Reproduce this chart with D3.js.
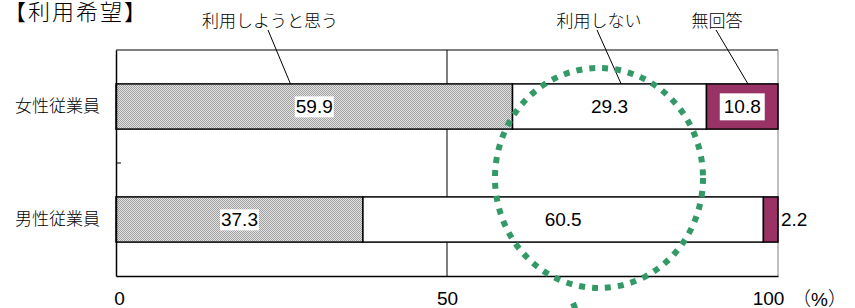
<!DOCTYPE html>
<html>
<head>
<meta charset="utf-8">
<script src="https://cdn.jsdelivr.net/npm/d3@7"></script>
<style>
  body { margin: 0; background: #fff; }
  svg text { font-family: "Liberation Sans", Arial, "Noto Sans CJK JP", sans-serif; }
  svg text.jp { font-weight: 300; }
</style>
</head>
<body>
<div id="chart"></div>
<script>
// data
const title = "【利用希望】";
const categories = ["女性従業員", "男性従業員"];
const seriesNames = ["利用しようと思う", "利用しない", "無回答"];
const useYes = [59.9, 37.3];
const useNo = [29.3, 60.5];
const noAnswer = [10.8, 2.2];
const xTicks = [0, 50, 100];

const svgWidth = 855, svgHeight = 308;
const margin = {top: 50, right: 77, bottom: 32, left: 116};
const width = svgWidth - margin.left - margin.right,
      height = svgHeight - margin.top - margin.bottom;

const svg = d3.select("#chart").append("svg")
    .attr("width", svgWidth)
    .attr("height", svgHeight);

// stipple fill for first series
const defs = svg.append("defs");
const pat = defs.append("pattern")
    .attr("id", "dots")
    .attr("width", 2).attr("height", 2)
    .attr("patternUnits", "userSpaceOnUse");
pat.append("rect").attr("width", 2).attr("height", 2).attr("fill", "#e2e2e2");
pat.append("rect").attr("width", 1).attr("height", 1).attr("fill", "#a0a0a0");
pat.append("rect").attr("x", 1).attr("y", 1).attr("width", 1).attr("height", 1).attr("fill", "#a0a0a0");

const fills = ["url(#dots)", "#ffffff", "#993366"];

const g = svg.append("g")
    .attr("transform", "translate(" + margin.left + "," + margin.top + ")");

let x = d3.scaleLinear().domain([0, 100]).range([0, width]);
let y = d3.scaleBand().domain(categories).range([0, height])
    .paddingInner(0.6).paddingOuter(0.3);

// build stacked rows
const rows = categories.map((c, i) => ({cat: c, 0: useYes[i], 1: useNo[i], 2: noAnswer[i]}));
const stacked = d3.stack().keys([0, 1, 2])(rows);

// frame: top and right border gray
g.append("line").attr("x1", 0).attr("x2", width).attr("y1", 0).attr("y2", 0)
    .attr("stroke", "#808080").attr("stroke-width", 2);
g.append("line").attr("x1", width).attr("x2", width).attr("y1", 0).attr("y2", height)
    .attr("stroke", "#808080").attr("stroke-width", 1);

// gridline at 50
g.selectAll(".grid").data(xTicks.slice(1, -1)).enter().append("line")
    .attr("x1", d => x(d)).attr("x2", d => x(d))
    .attr("y1", 0).attr("y2", height)
    .attr("stroke", "#000").attr("stroke-width", 1);

// bars
const layers = g.selectAll(".layer").data(stacked).enter().append("g")
    .attr("fill", (d, i) => fills[i]);

layers.selectAll("rect").data(d => d).enter().append("rect")
    .attr("x", d => x(d[0]))
    .attr("y", d => y(d.data.cat))
    .attr("width", d => x(d[1]) - x(d[0]))
    .attr("height", y.bandwidth())
    .attr("stroke", "#000")
    .attr("stroke-width", 1.5);

// axes
const xAxis = g.append("g")
    .attr("transform", "translate(0," + height + ")")
    .call(d3.axisBottom(x).tickValues(xTicks).tickSize(0).tickPadding(16));
xAxis.select(".domain").attr("stroke", "#000").attr("stroke-width", 1.5);
xAxis.selectAll("text").attr("font-size", "19px").attr("fill", "#000")
    .style("font-family", "\"Liberation Sans\", Arial, sans-serif")
    .attr("dx", d => d === 100 ? -10 : (d === 0 ? 3 : 0));

const yAxis = g.append("g")
    .call(d3.axisLeft(y).tickSize(0).tickPadding(16));
yAxis.select(".domain").attr("stroke", "#000").attr("stroke-width", 1.5);
yAxis.selectAll("text").attr("font-size", "17px").attr("fill", "#000")
    .attr("class", "jp").style("font-family", "\"Noto Sans CJK JP\", sans-serif");

// boundary tick between the two categories
g.selectAll(".btick").data(categories.slice(1)).enter().append("line")
    .attr("x1", 0).attr("x2", 5)
    .attr("y1", d => y(d) - y.step() * y.paddingInner() / 2)
    .attr("y2", d => y(d) - y.step() * y.paddingInner() / 2)
    .attr("stroke", "#000").attr("stroke-width", 1);

g.append("text")
    .attr("class", "jp")
    .attr("x", width + 14).attr("y", height + 29.5)
    .attr("font-size", "19px")
    .text("（%）");

// value labels
stacked.forEach((layer, si) => {
    layer.forEach(d => {
        const v = d[1] - d[0];
        const segW = x(d[1]) - x(d[0]);
        const inside = segW > 40;
        const cy = y(d.data.cat) + y.bandwidth() / 2;
        const lg = g.append("g");
        const t = lg.append("text")
            .attr("x", inside ? x(d[0]) + segW / 2 : x(d[1]) + 3)
            .attr("y", cy)
            .attr("dy", "0.36em")
            .attr("text-anchor", inside ? "middle" : "start")
            .attr("font-size", "19px")
            .attr("fill", "#000")
            .text(v.toFixed(1));
        if (inside && si !== 1) {
            const b = t.node().getBBox();
            const pad = si === 2 ? 4 : 1;
            lg.insert("rect", "text")
                .attr("x", b.x - pad).attr("y", b.y - pad + 1)
                .attr("width", b.width + pad * 2).attr("height", b.height + pad * 2 - 2)
                .attr("fill", "#fff");
        }
    });
});

// title
svg.append("text")
    .attr("class", "jp")
    .attr("x", 4).attr("y", 20)
    .attr("font-size", "22px")
    .attr("letter-spacing", "2px")
    .text(title);

// series labels with leader lines
const seriesLabelX = [270, 599, 717];
const leaderTop = [[268, 30], [597, 30], [716, 30]];
const leaderFrac = [0.44, 0.56, 0.58];
const first = stacked.map(l => l[0]);
seriesNames.forEach((name, i) => {
    svg.append("text")
        .attr("class", "jp")
        .attr("x", seriesLabelX[i]).attr("y", 27)
        .attr("text-anchor", "middle")
        .attr("font-size", "17px")
        .text(name);
    const seg = first[i];
    const ex = margin.left + x(seg[0] + (seg[1] - seg[0]) * leaderFrac[i]);
    const ey = margin.top + y(categories[0]);
    svg.append("line")
        .attr("x1", leaderTop[i][0]).attr("y1", leaderTop[i][1])
        .attr("x2", ex).attr("y2", ey)
        .attr("stroke", "#000").attr("stroke-width", 1);
});

// green dotted highlight
svg.append("ellipse")
    .attr("cx", 599).attr("cy", 178)
    .attr("rx", 104).attr("ry", 110)
    .attr("fill", "none")
    .attr("stroke", "#339966")
    .attr("stroke-width", 6)
    .attr("stroke-dasharray", "6 7");
svg.append("line")
    .attr("x1", 573).attr("y1", 303).attr("x2", 590).attr("y2", 345)
    .attr("stroke", "#339966")
    .attr("stroke-width", 6)
    .attr("stroke-dasharray", "6 7");
</script>
</body>
</html>
